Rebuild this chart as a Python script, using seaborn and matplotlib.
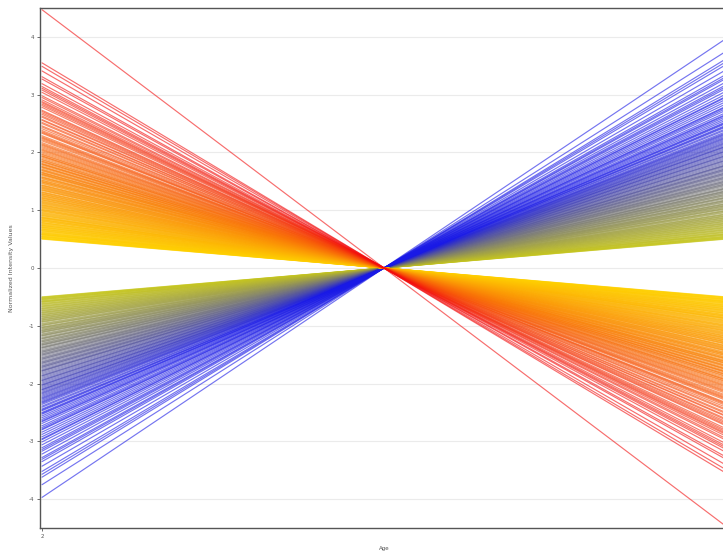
import numpy as np
import pandas as pd
import matplotlib
matplotlib.use("Agg")
import matplotlib.pyplot as plt
import seaborn as sns

# Ages on the x axis
ages = [2, 3, 4]

# Value at age 2 for each up-then-down profile (value at age 3 is 0, age 4 is the mirror)
pos_start = [4.47, 3.55, 3.49, 3.41, 3.31, 3.27, 3.19, 3.14, 3.11, 3.08, 3.04, 2.98, 2.95, 2.91,
             2.88, 2.86, 2.835, 2.81, 2.78, 2.73, 2.71, 2.685, 2.66, 2.63, 2.61, 2.57, 2.555,
             2.52, 2.50, 2.46, 2.44, 2.41, 2.38, 2.36, 2.345, 2.33, 2.29, 2.27, 2.255, 2.24,
             2.22, 2.20, 2.17, 2.15, 2.135, 2.12, 2.10, 2.08, 2.06, 2.045, 2.03, 2.01, 1.99,
             1.97, 1.96, 1.94, 1.935, 1.92, 1.90, 1.88, 1.87, 1.85, 1.845, 1.83, 1.81, 1.80,
             1.795, 1.78, 1.76, 1.75, 1.745, 1.73, 1.71, 1.70, 1.69, 1.68, 1.66, 1.65, 1.645,
             1.63, 1.62, 1.615, 1.60, 1.58, 1.57, 1.565, 1.55, 1.54, 1.52, 1.515, 1.50, 1.49,
             1.485, 1.47, 1.46, 1.44, 1.43, 1.425, 1.41, 1.40, 1.39, 1.38, 1.37, 1.355, 1.35,
             1.34, 1.32, 1.31, 1.305, 1.29, 1.28, 1.275, 1.26, 1.25, 1.245, 1.23, 1.22, 1.21,
             1.205, 1.19, 1.18, 1.175, 1.16, 1.15, 1.14, 1.13, 1.12, 1.11, 1.095, 1.09, 1.08,
             1.07, 1.058, 1.05, 1.04, 1.03, 1.015, 1.01, 1.00, 0.99, 0.985, 0.97, 0.96, 0.95,
             0.94, 0.93, 0.92, 0.91, 0.905, 0.89, 0.88, 0.872, 0.87, 0.86, 0.853, 0.84, 0.835,
             0.83, 0.82, 0.81, 0.808, 0.79, 0.785, 0.78, 0.77, 0.76, 0.752, 0.74, 0.738, 0.73,
             0.72, 0.71, 0.705, 0.70, 0.69, 0.68, 0.672, 0.67, 0.66, 0.65, 0.645, 0.64, 0.628,
             0.62, 0.61, 0.605, 0.60, 0.59, 0.585, 0.58, 0.575, 0.57, 0.56, 0.55, 0.548, 0.54,
             0.535, 0.53, 0.52, 0.515, 0.51, 0.505, 0.50]

neg_start = [-0.50, -0.505, -0.51, -0.52, -0.525, -0.53, -0.54, -0.545, -0.55, -0.565, -0.57,
             -0.58, -0.585, -0.59, -0.60, -0.615, -0.62, -0.63, -0.64, -0.655, -0.66, -0.67,
             -0.68, -0.695, -0.70, -0.71, -0.72, -0.735, -0.74, -0.75, -0.765, -0.77, -0.78,
             -0.79, -0.805, -0.81, -0.82, -0.835, -0.84, -0.85, -0.865, -0.87, -0.88, -0.895,
             -0.90, -0.91, -0.925, -0.93, -0.94, -0.96, -0.97, -0.985, -0.99, -1.00, -1.02,
             -1.03, -1.035, -1.05, -1.06, -1.075, -1.08, -1.09, -1.105, -1.11, -1.12, -1.14,
             -1.15, -1.165, -1.17, -1.18, -1.20, -1.215, -1.22, -1.23, -1.25, -1.26, -1.275,
             -1.28, -1.30, -1.31, -1.325, -1.33, -1.34, -1.36, -1.375, -1.38, -1.39, -1.41,
             -1.43, -1.44, -1.455, -1.46, -1.48, -1.49, -1.505, -1.51, -1.53, -1.55, -1.56,
             -1.575, -1.58, -1.60, -1.62, -1.63, -1.645, -1.65, -1.67, -1.69, -1.70, -1.715,
             -1.72, -1.74, -1.76, -1.775, -1.78, -1.79, -1.81, -1.83, -1.85, -1.865, -1.87,
             -1.89, -1.91, -1.93, -1.945, -1.95, -1.97, -1.99, -2.01, -2.025, -2.03, -2.05,
             -2.07, -2.09, -2.105, -2.11, -2.13, -2.15, -2.165, -2.18, -2.20, -2.22, -2.24,
             -2.255, -2.27, -2.29, -2.31, -2.325, -2.34, -2.36, -2.39, -2.41, -2.44, -2.455,
             -2.47, -2.50, -2.515, -2.53, -2.56, -2.59, -2.62, -2.645, -2.66, -2.69, -2.73,
             -2.76, -2.785, -2.80, -2.84, -2.88, -2.92, -2.955, -2.97, -3.01, -3.06, -3.11,
             -3.14, -3.17, -3.22, -3.28, -3.31, -3.35, -3.43, -3.52, -3.57, -3.62, -3.75, -3.97]

y_ticks = [-4, -3, -2, -1, 0, 1, 2, 3, 4]
x_ticks = [2, 4]


def mix(c1, c2, t):
    t = min(max(t, 0.0), 1.0)
    return tuple(a + (b - a) * t for a, b in zip(c1, c2))


YELLOW = (1.0, 0.88, 0.0)
YELLOW_N = (0.82, 0.82, 0.08)
RED = (0.95, 0.05, 0.05)
BLUE = (0.1, 0.1, 0.9)

rows = []
palette = {}
gid = 0
for v in neg_start:
    name = f"g{gid}"
    for a, y in zip(ages, [v, 0.0, -v]):
        rows.append((name, a, y))
    palette[name] = mix(YELLOW_N, BLUE, (abs(v) - 0.4) / 2.1)
    gid += 1
for v in pos_start[::-1]:
    name = f"g{gid}"
    for a, y in zip(ages, [v, 0.0, -v]):
        rows.append((name, a, y))
    palette[name] = mix(YELLOW, RED, (v - 0.3) / 3.0)
    gid += 1

df = pd.DataFrame(rows, columns=["gene", "age", "value"])

sns.set_theme(style="white")
plt.rcParams["font.family"] = ["DejaVu Sans"]

fig = plt.figure(figsize=(7.23, 5.51), dpi=100)
ax = fig.add_axes([40 / 723, 1 - 528 / 551, 688 / 723, 520 / 551])

sns.lineplot(data=df, x="age", y="value", hue="gene", palette=palette,
             estimator=None, sort=False, legend=False, linewidth=0.85, alpha=0.6, ax=ax)

ax.set_xlim(1.994, 4.006)
ax.set_ylim(-4.5, 4.5)
ax.set_yticks(y_ticks)
ax.set_yticklabels([str(t) for t in y_ticks])
ax.set_xticks(x_ticks)
ax.set_xticklabels([str(t) for t in x_ticks])
ax.yaxis.grid(True, color="#EBEBEB", linewidth=0.8)
ax.xaxis.grid(False)
ax.set_axisbelow(True)
ax.tick_params(axis="both", which="both", labelsize=4, colors="#555555",
               length=2.5, width=0.6, direction="out", left=True, bottom=True, pad=2)
for s in ["left", "bottom", "top", "right"]:
    ax.spines[s].set_color("#555555")
    ax.spines[s].set_linewidth(1.0)
ax.set_xlabel("Age", fontsize=4, color="#555555", labelpad=5)
ax.set_ylabel("Normalized Intensity Values", fontsize=4.5, color="#555555", labelpad=10)

fig.savefig("out.png", dpi=100)
